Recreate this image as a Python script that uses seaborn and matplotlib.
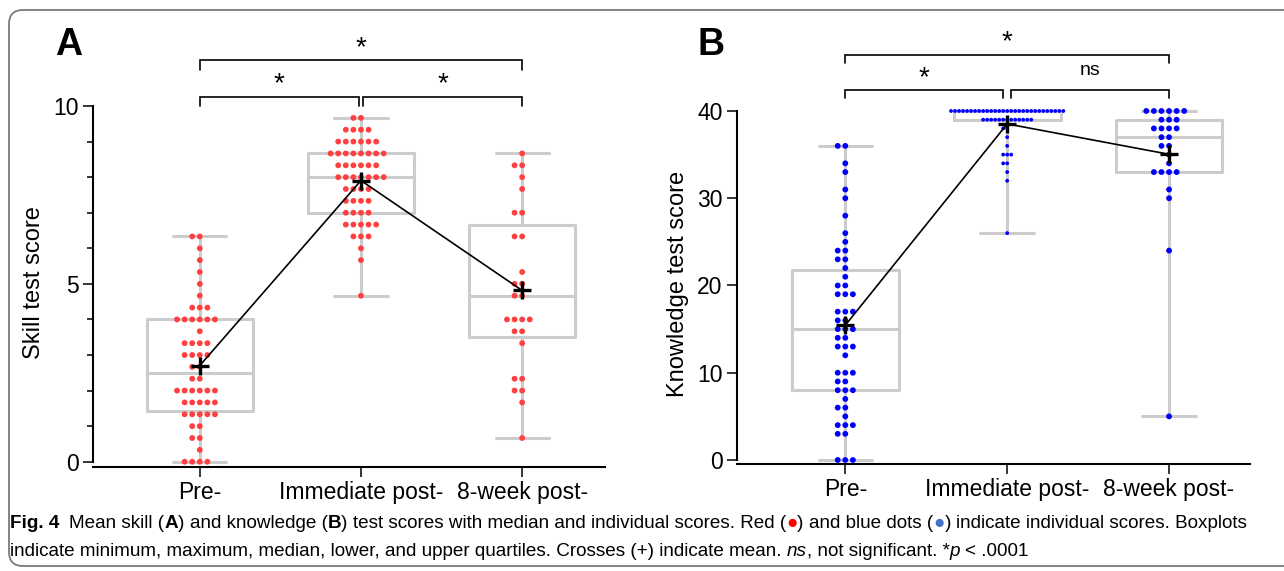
import matplotlib
matplotlib.use("Agg")
import matplotlib.pyplot as plt
import matplotlib.transforms as mtransforms
from matplotlib.patches import FancyBboxPatch
from matplotlib.ticker import MultipleLocator
import numpy as np
import pandas as pd
import seaborn as sns

groups = ["Pre-", "Immediate post-", "8-week post-"]

# A: skill test scores (steps of 1/3) and number of participants on each score
skill_pre_vals = [0, 1/3, 2/3, 1, 4/3, 5/3, 2, 7/3, 8/3, 3, 10/3, 11/3, 4, 13/3, 14/3, 5, 16/3, 17/3, 6, 19/3]
skill_pre_n = [4, 1, 2, 2, 5, 5, 6, 2, 2, 4, 4, 1, 6, 3, 1, 1, 1, 1, 1, 2]
skill_imm_vals = [14/3, 17/3, 6, 19/3, 20/3, 7, 22/3, 23/3, 8, 25/3, 26/3, 9, 28/3, 29/3]
skill_imm_n = [1, 1, 1, 3, 5, 4, 4, 4, 7, 6, 8, 6, 4, 2]
skill_8wk_vals = [2/3, 5/3, 2, 7/3, 10/3, 11/3, 4, 14/3, 5, 16/3, 19/3, 7, 23/3, 8, 25/3, 26/3]
skill_8wk_n = [1, 1, 2, 2, 1, 2, 4, 2, 2, 1, 2, 2, 1, 1, 2, 1]

# B: knowledge test scores
know_pre_vals = [0, 3, 4, 5, 6, 7, 8, 9, 10, 12, 13, 14, 15, 16, 17, 19, 20, 21, 22, 23, 24, 25, 26, 28, 30, 31, 33, 34, 36]
know_pre_n = [3, 2, 3, 1, 2, 1, 3, 2, 3, 1, 3, 2, 3, 2, 3, 3, 2, 1, 1, 2, 2, 1, 1, 1, 1, 1, 1, 1, 2]
know_imm_vals = [26, 32, 33, 34, 35, 36, 37, 38, 39, 40]
know_imm_n = [1, 1, 1, 2, 3, 1, 1, 2, 13, 29]
know_8wk_vals = [5, 24, 30, 31, 33, 34, 35, 36, 37, 38, 39, 40]
know_8wk_n = [1, 1, 1, 1, 4, 1, 1, 2, 2, 4, 3, 6]

W, H = 1284, 571

sns.set_theme(style="ticks")
plt.rcParams["font.family"] = ["Liberation Sans", "DejaVu Sans"]
for k in ["text.color", "axes.labelcolor", "xtick.color", "ytick.color", "axes.edgecolor"]:
    plt.rcParams[k] = "black"


def long_df(val_lists, n_lists):
    rows = []
    for g, vals, ns in zip(groups, val_lists, n_lists):
        for v in np.repeat(vals, ns):
            rows.append((g, v))
    return pd.DataFrame(rows, columns=["time", "score"])


def bracket(ax, x0, x1, y, drop, label, ty, size=20):
    ax.plot([x0, x0, x1, x1], [y - drop, y, y, y - drop], color="black", lw=1.2,
            clip_on=False, solid_joinstyle="miter")
    ax.text((x0 + x1) / 2, ty, label, ha="center", va="center", fontsize=size)


def panel(ax, df, dot_color, tight_group, ylim, yticks, ylabel):
    sns.boxplot(data=df, x="time", y="score", order=groups, whis=(0, 100), width=0.66,
                fill=False, color="#cccccc", linewidth=2.2, showfliers=False, ax=ax)
    normal = df[df["time"] != tight_group]
    sns.swarmplot(data=normal, x="time", y="score", order=groups, color=dot_color,
                  size=4.2, linewidth=1.0, edgecolor="none", ax=ax)
    if tight_group is not None:
        # crowded group: points packed closer, as in the original
        tight = df[df["time"] == tight_group]
        sns.swarmplot(data=tight, x="time", y="score", order=groups, color=dot_color,
                      size=2.75, linewidth=0, edgecolor="none", ax=ax)
    sns.pointplot(data=df, x="time", y="score", order=groups, estimator="mean",
                  errorbar=None, color="black", markers="+", markersize=13,
                  markeredgewidth=2.4, linewidth=1.2, zorder=6, ax=ax)
    ax.set_ylim(*ylim)
    ax.set_yticks(yticks)
    ax.set_xlabel("")
    ax.set_ylabel(ylabel, fontsize=17, labelpad=6)
    sns.despine(ax=ax)
    ax.spines["left"].set_bounds(yticks[0], yticks[-1])
    ax.spines["left"].set_linewidth(1.5)
    ax.spines["bottom"].set_linewidth(1.5)
    ax.tick_params(axis="both", which="major", labelsize=16.5, length=7, width=1.1)
    ax.tick_params(axis="y", which="minor", length=4, width=1.1)


fig = plt.figure(figsize=(W / 100, H / 100), dpi=100)

# panel A
axA = fig.add_axes([93 / W, (H - 466.7) / H, 512 / W, 367.8 / H])
dfA = long_df([skill_pre_vals, skill_imm_vals, skill_8wk_vals], [skill_pre_n, skill_imm_n, skill_8wk_n])
panel(axA, dfA, "#ff4040", None, (-0.14, 10.2), [0, 5, 10], "Skill test score")
axA.yaxis.set_minor_locator(MultipleLocator(1))
axA.set_xlim(-0.6625, 2.514)
bracket(axA, 0, 2, 11.28, 0.27, "*", 11.62)
bracket(axA, 0, 0.985, 10.25, 0.24, "*", 10.62)
bracket(axA, 1.015, 2, 10.25, 0.24, "*", 10.62)

# panel B
axB = fig.add_axes([737 / W, (H - 463.5) / H, 513 / W, 359.5 / H])
dfB = long_df([know_pre_vals, know_imm_vals, know_8wk_vals], [know_pre_n, know_imm_n, know_8wk_n])
panel(axB, dfB, "#0000ff", "Immediate post-", (-0.4, 40.8), [0, 10, 20, 30, 40], "Knowledge test score")
axB.set_xlim(-0.669, 2.5)
bracket(axB, 0, 2, 46.4, 0.95, "*", 47.9)
bracket(axB, 0, 0.975, 42.4, 0.95, "*", 43.8)
bracket(axB, 1.025, 2, 42.4, 0.95, "ns", 44.6, size=14)

fig.text(55 / W, 1 - 55 / H, "A", fontsize=27, fontweight="bold", va="baseline")
fig.text(697 / W, 1 - 55 / H, "B", fontsize=27, fontweight="bold", va="baseline")

# rounded frame around figure
frame = FancyBboxPatch((9, 5), 1400, H - 15, boxstyle="round,pad=0,rounding_size=14",
                       transform=mtransforms.IdentityTransform(), fill=False,
                       ec="#7a7a7a", lw=1.3)
fig.add_artist(frame)

# caption, written piece by piece
renderer = fig.canvas.get_renderer()


def caption_line(x_px, y_px, parts, size=13.55):
    for p in parts:
        if isinstance(p, (int, float)):
            x_px += p
            continue
        s, kw = p
        t = fig.text(x_px / W, 1 - y_px / H, s, va="baseline", fontsize=size, **kw)
        x_px = t.get_window_extent(renderer).x1


sp = 5.1
caption_line(10, 528, [
    ("Fig. 4", {"fontweight": "bold"}), 10,
    ("Mean skill (", {}), ("A", {"fontweight": "bold"}),
    (")", {}), sp, ("and knowledge (", {}), ("B", {"fontweight": "bold"}),
    (")", {}), sp, ("test scores with median and individual scores. Red (", {}),
    ("\u25cf", {"color": "#ff0000"}), (")", {}), sp, ("and blue dots (", {}),
    ("\u25cf", {"color": "#4472c4"}), (")", {}), sp,
    ("indicate individual scores. Boxplots", {}),
])
caption_line(10, 556, [
    ("indicate minimum, maximum, median, lower, and upper quartiles. Crosses (+) indicate mean.", {}), sp,
    ("ns", {"style": "italic"}), (", not significant. *", {}), ("p", {"style": "italic"}), sp,
    ("< .0001", {}),
])

fig.savefig("out.png", dpi=100)
